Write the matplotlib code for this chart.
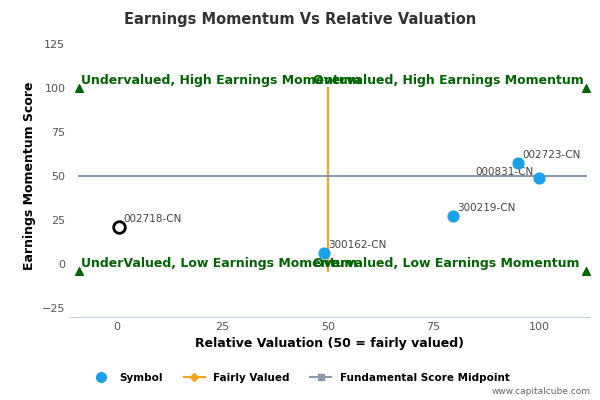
import matplotlib
matplotlib.use("Agg")
import matplotlib.pyplot as plt
from matplotlib.lines import Line2D

symbols = ["002723-CN", "000831-CN", "300219-CN", "300162-CN"]
xs = [95, 100, 79.5, 49]
ys = [57, 49, 27, 6]
hl_symbol = "002718-CN"; hl_x = 0.5; hl_y = 21
fair_x = [50, 50]; fair_y = [-4, 100]
mid_x = [-9, 111]; mid_y = [50, 50]
tri_x = [-9, -9, 111, 111]; tri_y = [100, -4, 100, -4]
xticks = [0, 25, 50, 75, 100]
yticks = [-25, 0, 25, 50, 75, 100, 125]

fig = plt.figure(figsize=(6, 4), dpi=100)
ax = fig.add_axes([0.117, 0.208, 0.866, 0.705])
ax.set_xlim(-11, 112)
ax.set_ylim(-30, 130)
ax.plot(fair_x, fair_y, color="#f7a21b", lw=1.5)
ax.plot(mid_x, mid_y, color="#8d98a8", lw=1.5)
ax.scatter(tri_x, tri_y, marker="^", color="#006400", s=30, zorder=3)
ax.scatter(xs, ys, color="#1ba1e8", s=60, zorder=4)
ax.scatter([hl_x], [hl_y], facecolor="white", edgecolor="black", lw=2, s=70, zorder=4)
offs = {"000831-CN": (-15, 1.5)}
for s, x, y in zip(symbols, xs, ys):
    dx, dy = offs.get(s, (1, 3))
    ax.text(x + dx, y + dy, s, fontsize=7.5, color="#444444")
ax.text(hl_x + 1, hl_y + 3, hl_symbol, fontsize=7.5, color="#444444")
for tx, ty, t in [(-8.5, 102, "Undervalued, High Earnings Momentum"),
                  (46.5, 102, "Overvalued, High Earnings Momentum"),
                  (-8.5, -2, "UnderValued, Low Earnings Momentum"),
                  (46.5, -2, "Overvalued, Low Earnings Momentum")]:
    ax.text(tx, ty, t, color="#006400", fontsize=9, fontweight="bold")
ax.set_xticks(xticks); ax.set_yticks(yticks)
ax.tick_params(labelsize=8, colors="#555555", length=0)
for sp in ["top", "right", "left"]:
    ax.spines[sp].set_visible(False)
ax.spines["bottom"].set_color("#c0d0e0")
ax.set_xlabel("Relative Valuation (50 = fairly valued)", fontsize=9, fontweight="bold")
ax.set_ylabel("Earnings Momentum Score", fontsize=9, fontweight="bold")
fig.suptitle("Earnings Momentum Vs Relative Valuation", fontsize=10.5, fontweight="bold", color="#333333", y=0.97)
handles = [Line2D([], [], marker="o", color="#1ba1e8", ls="", ms=7),
           Line2D([], [], marker="D", color="#f7a21b", ms=4),
           Line2D([], [], marker="s", color="#8d98a8", ms=5)]
fig.legend(handles, ["Symbol", "Fairly Valued", "Fundamental Score Midpoint"], loc="lower center",
           bbox_to_anchor=(0.5, 0.02), ncol=3, frameon=False, prop={"size": 7.5, "weight": "bold"})
fig.text(0.985, 0.015, "www.capitalcube.com", ha="right", fontsize=6.5, color="#666666")
fig.savefig("out.png", dpi=100)
